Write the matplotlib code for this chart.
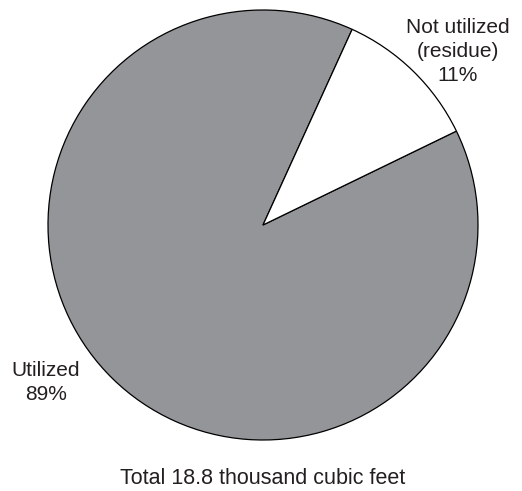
import matplotlib
matplotlib.use("Agg")
import matplotlib.pyplot as plt

categories = ["Utilized", "Not utilized\n(residue)"]
shares = [89, 11]
colors = ["#939598", "#ffffff"]
total_label = "Total 18.8 thousand cubic feet"

plt.rcParams["font.family"] = ["Liberation Sans", "DejaVu Sans"]

fig = plt.figure(figsize=(5.22, 4.91), dpi=100)
ax = fig.add_axes([0, 0, 1, 1])

cx, cy, r = 263, 266, 215
ax.pie(shares, colors=colors, startangle=65.5, counterclock=True,
       center=(cx, cy), radius=r, frame=True,
       wedgeprops=dict(edgecolor="black", linewidth=0.9))
ax.set_xlim(0, 522)
ax.set_ylim(0, 491)
ax.axis("off")

# baseline alignment anchors the last line of each label
text_color = "#231f20"
ax.text(458, 410, f"{categories[1]}\n{shares[1]}%", ha="center", va="baseline",
        fontsize=15, color=text_color, linespacing=1.35)
ax.text(46, 91, f"{categories[0]}\n{shares[0]}%", ha="center", va="baseline",
        fontsize=15, color=text_color, linespacing=1.3)
ax.text(263, 7, total_label, ha="center", va="baseline",
        fontsize=15.5, color=text_color)

fig.savefig("out.png", dpi=100)
